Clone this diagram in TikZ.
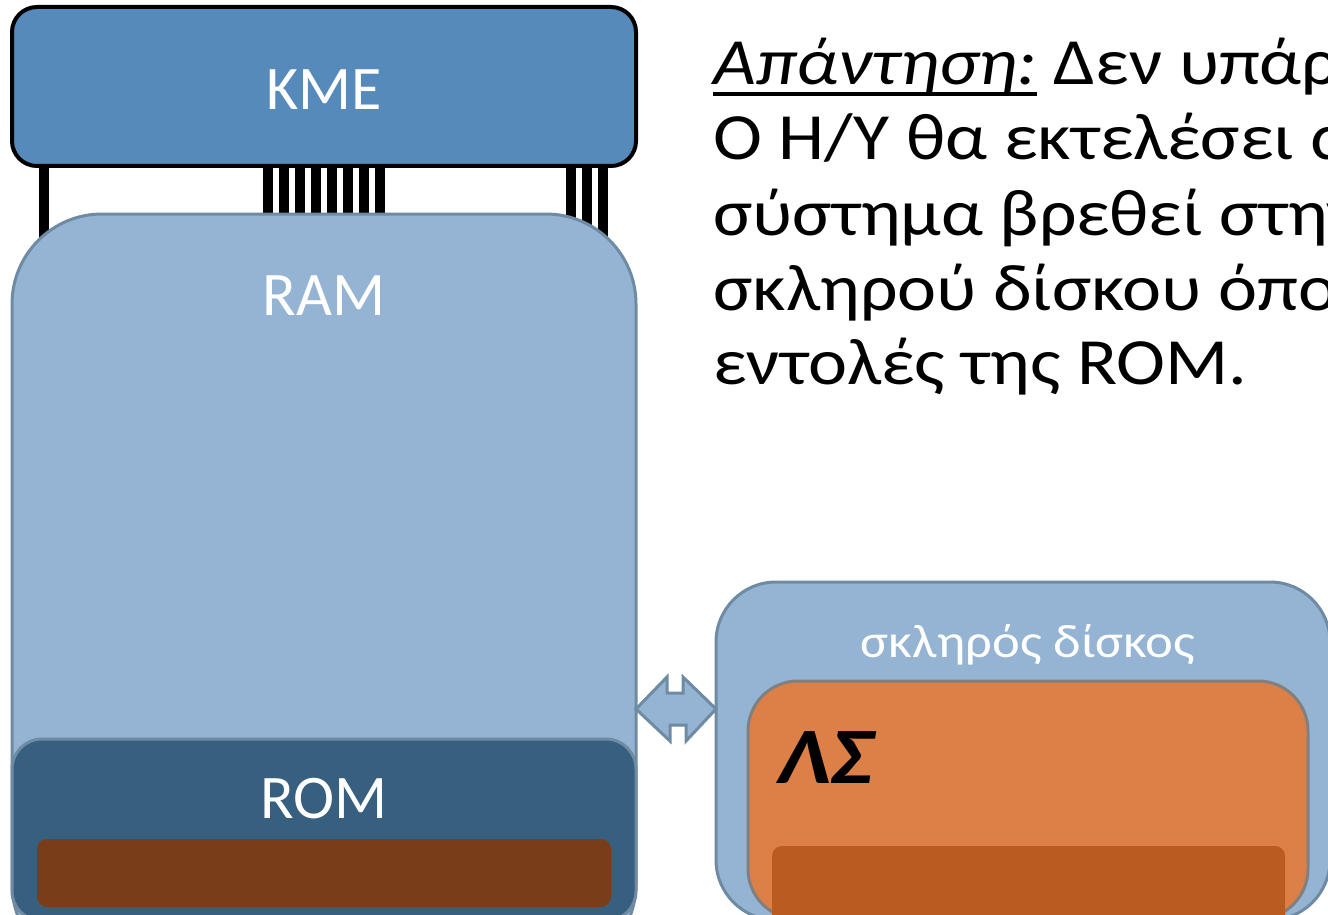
\documentclass[tikz,border=0pt]{standalone}
\usepackage{fontspec}
\setmainfont{Carlito}
\newfontfamily\grk[FakeStretch=1.12]{Carlito}
\definecolor{kmefill}{RGB}{85,138,187}
\definecolor{ramfill}{RGB}{149,179,211}
\definecolor{blueedge}{RGB}{111,139,163}
\definecolor{romfill}{RGB}{54,95,128}
\definecolor{brownfill}{RGB}{122,61,26}
\definecolor{orangefill}{RGB}{220,128,72}
\definecolor{greyedge}{RGB}{128,128,128}
\definecolor{darkorange}{RGB}{186,91,34}
\newcommand\myul[1]{\setbox0\hbox{#1}\rlap{\rule[-11pt]{\wd0}{4pt}}\box0\relax}
\tikzset{
  shapebox/.style={rectangle, inner sep=0pt, outer sep=0pt},
  busline/.style={line width=10pt, black},
  lbl/.style={inner sep=0pt, text=white, font=\fontsize{62}{74}\selectfont},
  txt/.style={inner sep=0pt, anchor=base west, font=\grk\fontsize{66}{78}\selectfont}
}
\begin{document}
\begin{tikzpicture}[x=1pt,y=-1pt]
\useasboundingbox (0,0) rectangle (1328,915);
\clip (0,0) rectangle (1328,915);
% KME box
\node[shapebox, draw=black, line width=4pt, fill=kmefill, rounded corners=25pt,
  minimum width=624pt, minimum height=159pt] (kme) at (324,86.5) {};
\node[lbl] (kmelbl) at (324,90) {KME};
% bus lines
\foreach \x [count=\i] in {44, 267.5, 283.5, 299.5, 315.5, 331.5, 347.5, 363.5, 379.5, 571, 587, 602.5} {
  \coordinate (bt\i) at (\x,168);
  \coordinate (bb\i) at (\x,300);
  \draw[busline] (bt\i) -- (bb\i);
}
% RAM
\node[shapebox, draw=blueedge, line width=3pt, fill=ramfill, rounded corners=90pt,
  minimum width=624pt, minimum height=760pt, anchor=north] (ram) at (324,214) {};
\node[lbl] (ramlbl) at (324,296) {RAM};
% ROM
\node[shapebox, draw=blueedge, line width=3pt, fill=romfill, rounded corners=30pt,
  minimum width=624pt, minimum height=182pt, anchor=north] (rom) at (324,739) {};
\node[lbl] (romlbl) at (324,799) {ROM};
\node[shapebox, fill=brownfill, rounded corners=10pt,
  minimum width=574pt, minimum height=68pt, anchor=north] (romdata) at (324,839) {};
% hard disk
\node[shapebox, draw=blueedge, line width=3pt, fill=ramfill, rounded corners=60pt,
  minimum width=614pt, minimum height=338pt, anchor=north west] (hdd) at (716,582) {};
\node[inner sep=0pt, text=white, font=\grk\fontsize{47}{56}\selectfont] (hddlbl) at (1028,645) {σκληρός δίσκος};
\node[shapebox, draw=greyedge, line width=3pt, fill=orangefill, rounded corners=50pt,
  minimum width=560pt, minimum height=238pt, anchor=north west] (os) at (748,681) {};
\node[inner sep=0pt, anchor=base west, font=\grk\fontsize{80}{96}\selectfont\bfseries\itshape] (oslbl) at (777,783) {ΛΣ};
\node[shapebox, fill=darkorange, rounded corners=10pt,
  minimum width=513pt, minimum height=80pt, anchor=north west] (osdata) at (772,846) {};
% double arrow between RAM and hard disk
\coordinate (al) at (ram.east |- 0,709);
\coordinate (ar) at (hdd.west |- 0,709);
\draw[blueedge, fill=ramfill, line width=3pt, line join=miter]
  (al) -- ++(31,-32) -- ++(0,16) -- ++(16,0) -- ++(0,-16) -- (ar)
  -- ++(-30,32) -- ++(0,-16) -- ++(-16,0) -- ++(0,16) -- cycle;
% answer text
\node[txt] (t1) at (713,85) {\myul{\itshape Απάντηση:} Δεν υπάρχει};
\node[txt] (t2) at (713,160) {Ο Η/Υ θα εκτελέσει α};
\node[txt] (t3) at (713,235) {σύστημα βρεθεί στην};
\node[txt] (t4) at (713,310) {σκληρού δίσκου όπου};
\node[txt] (t5) at (713,384) {εντολές της ROM.};
\end{tikzpicture}
\end{document}
